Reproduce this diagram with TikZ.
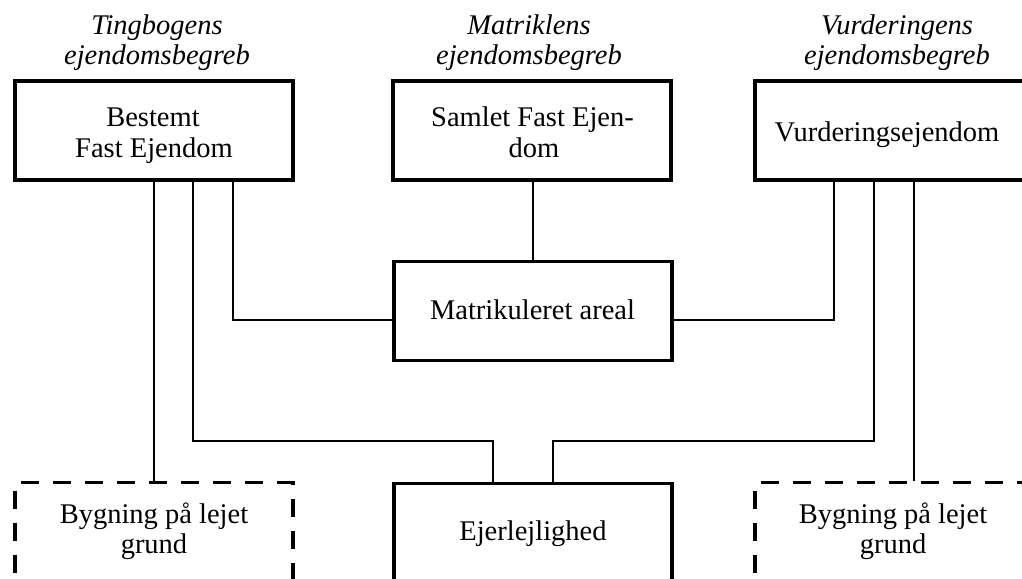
\documentclass[tikz,border=0pt]{standalone}
\usepackage{fontspec}
\setmainfont{Liberation Serif}
\begin{document}
\begin{tikzpicture}[x=1pt,y=-1pt,
  box/.style={draw, line width=3.6pt, minimum width=278pt, minimum height=99pt, inner sep=0pt},
  dashbox/.style={draw, line width=3.6pt, dash pattern=on 18pt off 14pt, minimum width=278pt, minimum height=140pt, inner sep=0pt},
  txt/.style={anchor=base, inner sep=0pt, font=\fontsize{28.5}{31}\selectfont},
  ttl/.style={txt, font=\fontsize{28.5}{31}\selectfont\itshape},
  wire/.style={line width=2.4pt}]
\useasboundingbox (0,0) rectangle (1022,578);
\clip (0,0) rectangle (1022,578);

% the three property concepts
\node[box] (a) at (153.7,130.5) {};
\node[box] (b) at (532,130.5) {};
\node[box] (c) at (893.7,130.5) {};
% registered area and the lower units
\node[box] (m) at (533,310.8) {};
\node[box, minimum height=140pt] (e) at (533,553.5) {};
\node[dashbox] (dl) at (153.7,552.5) {};
\node[dashbox] (dr) at (893.7,552.5) {};

% headings
\node[ttl] (ta1) at (157,35) {Tingbogens};
\node[ttl] (ta2) at (157,65) {ejendomsbegreb};
\node[ttl] (tb1) at (529,35) {Matriklens};
\node[ttl] (tb2) at (529,65) {ejendomsbegreb};
\node[ttl] (tc1) at (897,35) {Vurderingens};
\node[ttl] (tc2) at (897,65) {ejendomsbegreb};

% box texts
\node[txt] (a1) at (153,126.7) {Bestemt};
\node[txt] (a2) at (154,157.7) {Fast Ejendom};
\node[txt] (b1) at (532.5,126) {Samlet Fast Ejen-};
\node[txt] (b2) at (534,157) {dom};
\node[txt] (c1) at (887,141.7) {Vurderingsejendom};
\node[txt] (m1) at (532.5,319.3) {Matrikuleret areal};
\node[txt] (e1) at (533,540) {Ejerlejlighed};
\node[txt] (dl1) at (154,523) {Bygning på lejet};
\node[txt] (dl2) at (154,553) {grund};
\node[txt] (dr1) at (893,523) {Bygning på lejet};
\node[txt] (dr2) at (893,553) {grund};

% junction points above the apartment box
\coordinate (jl) at (493,440.7);
\coordinate (jr) at (553,440.7);

% connectors
\draw[wire] (b.south -| m.north) -- (m.north);
\draw[wire] ([xshift=79pt]a.south) |- ([yshift=-9pt]m.west);
\draw[wire] ([xshift=-60pt]c.south) |- ([yshift=-9pt]m.east);
\draw[wire] (a.south) -- (dl.north);
\draw[wire] ([xshift=20pt]c.south) -- ([xshift=20pt]dr.north);
\draw[wire] ([xshift=39pt]a.south) |- (jl) -- (jl |- e.north);
\draw[wire] ([xshift=-20pt]c.south) |- (jr) -- (jr |- e.north);
\end{tikzpicture}
\end{document}
